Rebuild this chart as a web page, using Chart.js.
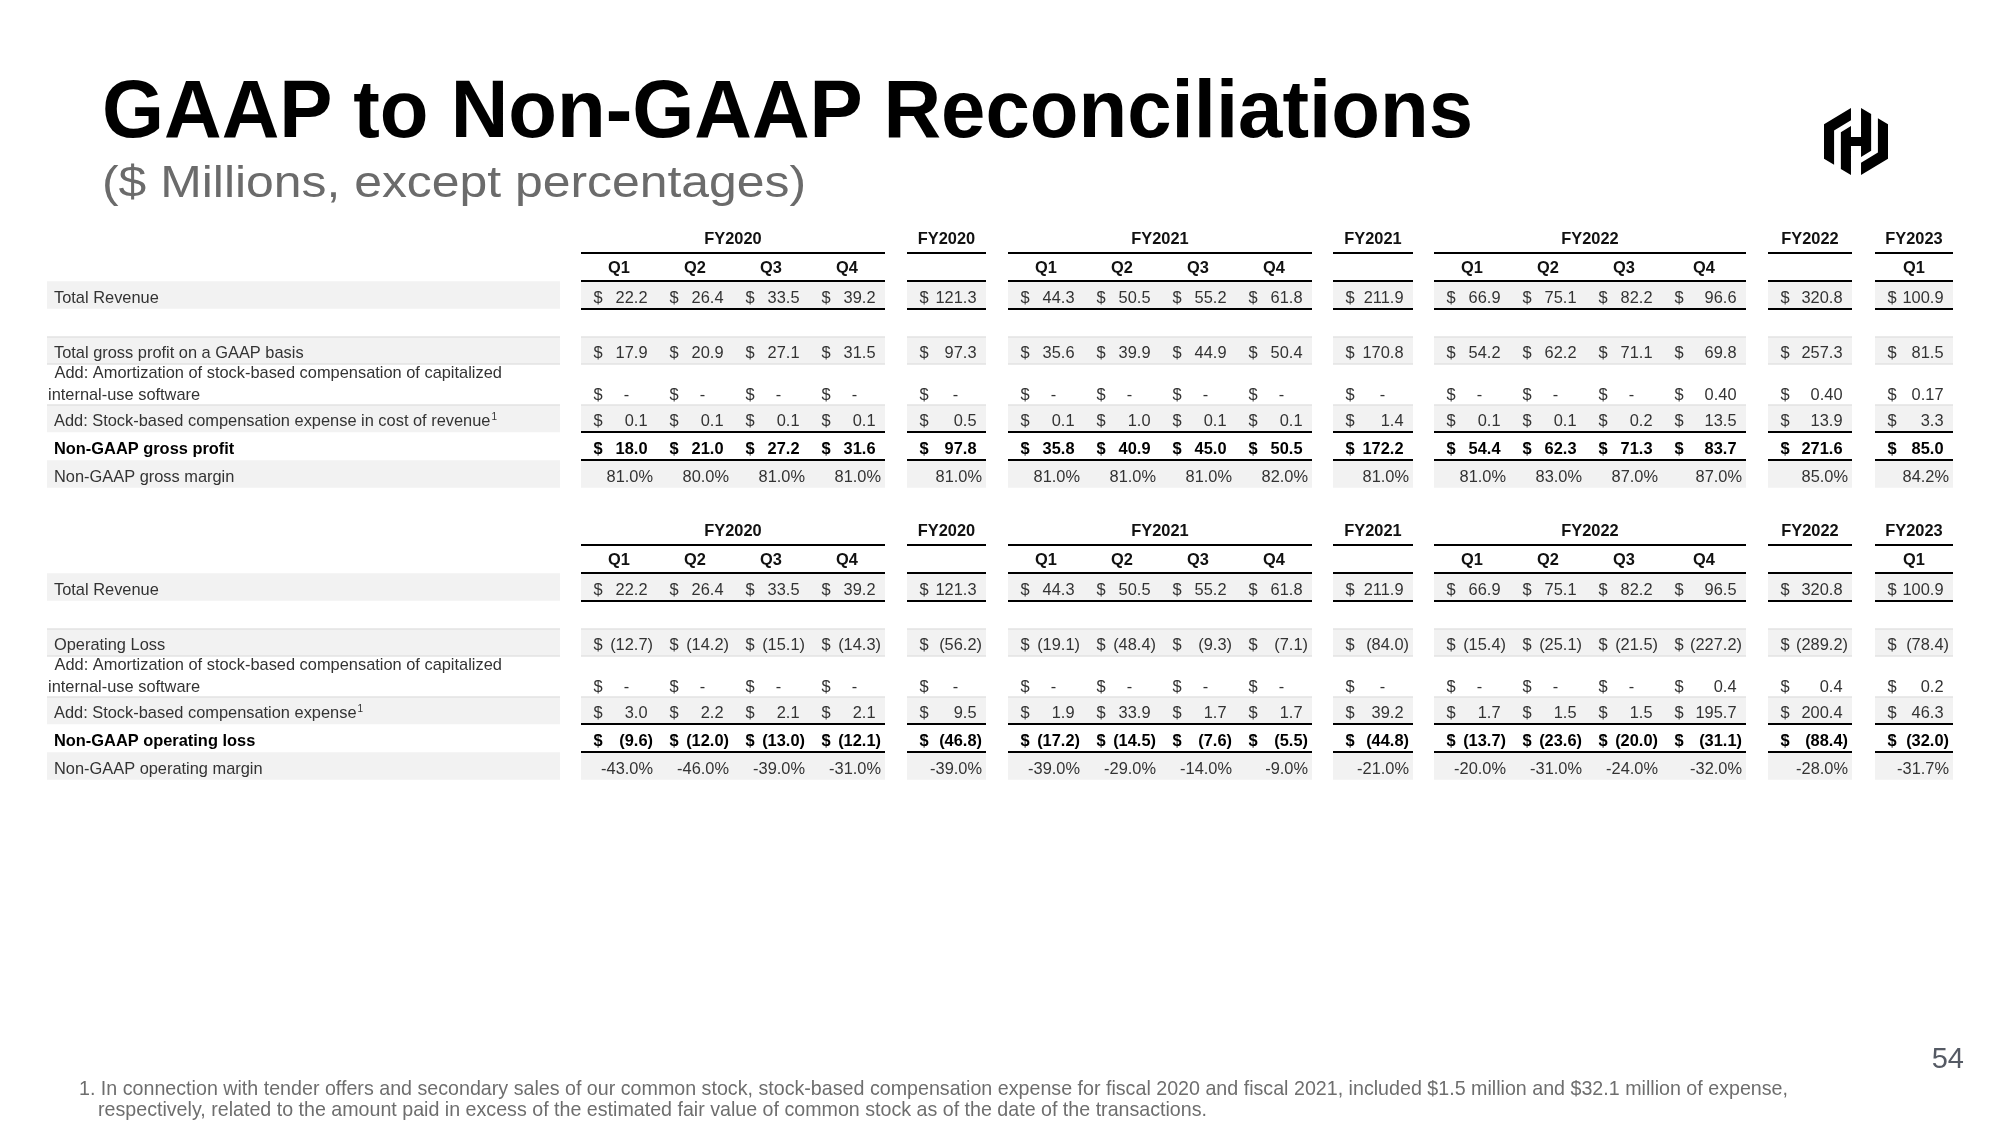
<!DOCTYPE html>
<html>
<head>
<meta charset="utf-8">
<script src="https://cdn.jsdelivr.net/npm/chart.js@4.4.0/dist/chart.umd.min.js"></script>
<style>
    html, body { margin: 0; padding: 0; background: #fff; }
    #page { position: relative; width: 2000px; height: 1125px; overflow: hidden; font-family: "Liberation Sans", Arial, sans-serif; }
    #table { position: absolute; left: 0; top: 0; width: 2000px; height: 1125px; }
    .txt { position: absolute; white-space: nowrap; line-height: 1; transform-origin: 0 0; }
</style>
</head>
<body>
<div id="page">
    <canvas id="table" width="2000" height="1125"></canvas>
    <div class="txt" data-w="1371" style="left:102px;top:67.6px;font-size:82px;font-weight:bold;color:#000">GAAP to Non-GAAP Reconciliations</div>
    <div class="txt" data-w="704" style="left:102px;top:159px;font-size:45px;color:#6b6b6b">($ Millions, except percentages)</div>
    <svg style="position:absolute;left:1824px;top:108px" width="64" height="67" viewBox="0 0 24 24" preserveAspectRatio="none">
        <path fill="#000" d="M10.114 0 0 5.842v12.316l3.784 2.184V8.026l6.33-3.656z"/>
        <path fill="#000" d="M13.886 0v10.352h-3.772V6.462L6.322 8.65v13.18L10.114 24V13.648h3.772v3.888l3.792-2.188V2.17z"/>
        <path fill="#000" d="M13.886 19.63V24L24 18.158V5.842l-3.784-2.184v12.316z"/>
    </svg>
    <div class="txt" style="right:36px;top:1043.5px;font-size:29px;color:#555a64">54</div>
    <div class="txt" data-w="1709" style="left:79px;top:1077.2px;font-size:21px;color:#6e6e6e">1. In connection with tender offers and secondary sales of our common stock, stock-based compensation expense for fiscal 2020 and fiscal 2021, included $1.5 million and $32.1 million of expense,</div>
    <div class="txt" data-w="1109" style="left:98px;top:1098.2px;font-size:21px;color:#6e6e6e">respectively, related to the amount paid in excess of the estimated fair value of common stock as of the date of the transactions.</div>
</div>
<script>
// ---- column headings ----
const fiscalGroups = ['FY2020', 'FY2020', 'FY2021', 'FY2021', 'FY2022', 'FY2022', 'FY2023'];
const columnHeads = ['Q1', 'Q2', 'Q3', 'Q4', '', 'Q1', 'Q2', 'Q3', 'Q4', '', 'Q1', 'Q2', 'Q3', 'Q4', '', 'Q1'];
const columnGroup = [0, 0, 0, 0, 1, 2, 2, 2, 2, 3, 4, 4, 4, 4, 5, 6];

// ---- gross profit table ----
const grossLabels = ['Total Revenue', 'Total gross profit on a GAAP basis',
    [' Add: Amortization of stock-based compensation of capitalized', 'internal-use software'],
    'Add: Stock-based compensation expense in cost of revenue', 'Non-GAAP gross profit', 'Non-GAAP gross margin'];
const revenueGross = [22.2, 26.4, 33.5, 39.2, 121.3, 44.3, 50.5, 55.2, 61.8, 211.9, 66.9, 75.1, 82.2, 96.6, 320.8, 100.9];
const grossProfitGaap = [17.9, 20.9, 27.1, 31.5, 97.3, 35.6, 39.9, 44.9, 50.4, 170.8, 54.2, 62.2, 71.1, 69.8, 257.3, 81.5];
const amortGross = [0, 0, 0, 0, 0, 0, 0, 0, 0, 0, 0, 0, 0, 0.40, 0.40, 0.17];
const sbcCostOfRevenue = [0.1, 0.1, 0.1, 0.1, 0.5, 0.1, 1.0, 0.1, 0.1, 1.4, 0.1, 0.1, 0.2, 13.5, 13.9, 3.3];
const nonGaapGrossProfit = [18.0, 21.0, 27.2, 31.6, 97.8, 35.8, 40.9, 45.0, 50.5, 172.2, 54.4, 62.3, 71.3, 83.7, 271.6, 85.0];
const nonGaapGrossMargin = [81.0, 80.0, 81.0, 81.0, 81.0, 81.0, 81.0, 81.0, 82.0, 81.0, 81.0, 83.0, 87.0, 87.0, 85.0, 84.2];

// ---- operating loss table ----
const operatingLabels = ['Total Revenue', 'Operating Loss',
    [' Add: Amortization of stock-based compensation of capitalized', 'internal-use software'],
    'Add: Stock-based compensation expense', 'Non-GAAP operating loss', 'Non-GAAP operating margin'];
const revenueOperating = [22.2, 26.4, 33.5, 39.2, 121.3, 44.3, 50.5, 55.2, 61.8, 211.9, 66.9, 75.1, 82.2, 96.5, 320.8, 100.9];
const operatingLoss = [-12.7, -14.2, -15.1, -14.3, -56.2, -19.1, -48.4, -9.3, -7.1, -84.0, -15.4, -25.1, -21.5, -227.2, -289.2, -78.4];
const amortOperating = [0, 0, 0, 0, 0, 0, 0, 0, 0, 0, 0, 0, 0, 0.4, 0.4, 0.2];
const sbcExpense = [3.0, 2.2, 2.1, 2.1, 9.5, 1.9, 33.9, 1.7, 1.7, 39.2, 1.7, 1.5, 1.5, 195.7, 200.4, 46.3];
const nonGaapOperatingLoss = [-9.6, -12.0, -13.0, -12.1, -46.8, -17.2, -14.5, -7.6, -5.5, -44.8, -13.7, -23.6, -20.0, -31.1, -88.4, -32.0];
const nonGaapOperatingMargin = [-43.0, -46.0, -39.0, -31.0, -39.0, -39.0, -29.0, -14.0, -9.0, -21.0, -20.0, -31.0, -24.0, -32.0, -28.0, -31.7];

// ---- layout ----
const labelBand = [47, 560];
const groupGaps = [21, 22, 22, 21, 21, 22, 23];
const columnWidths = [76, 76, 76, 76, 79, 76, 76, 76, 76, 80, 76, 76, 76, 84, 84, 78];
const tableTops = [224, 516];
const rowHeights = [29, 28, 28, 28, 27, 41, 27, 28, 28];
const FS = 16.4;
const REG = FS + 'px "Liberation Sans", Arial, sans-serif';
const BOLD = 'bold ' + REG;

const cols = [];
let xPos = labelBand[1], prevGroup = -1;
columnWidths.forEach((w, i) => {
    const g = columnGroup[i];
    if (g !== prevGroup) { xPos += groupGaps[g]; prevGroup = g; }
    cols.push({ l: xPos, r: xPos + w, mid: xPos + w / 2 });
    xPos += w;
});
const groups = fiscalGroups.map((name, g) => {
    const cs = cols.filter((c, i) => columnGroup[i] === g);
    return { name, l: cs[0].l, r: cs[cs.length - 1].r };
});

const rowSlots = (top) => {
    const s = [];
    let yy = top;
    rowHeights.forEach(h => { s.push({ t: yy, b: yy + h, mid: yy + h / 2 }); yy += h; });
    return s;
};

const tables = [
    { top: tableTops[0], labels: grossLabels, lines: [revenueGross, grossProfitGaap, amortGross, sbcCostOfRevenue, nonGaapGrossProfit], margin: nonGaapGrossMargin, amortDecimals: 2 },
    { top: tableTops[1], labels: operatingLabels, lines: [revenueOperating, operatingLoss, amortOperating, sbcExpense, nonGaapOperatingLoss], margin: nonGaapOperatingMargin, amortDecimals: 1 }
];
const lineSlots = [2, 4, 5, 6, 7];

// bands and rules as floating bars
const bands = [], rules = [], thinRules = [];
tables.forEach(t => {
    const s = rowSlots(t.top);
    [2, 4, 6, 8].forEach(r => {
        bands.push({ x: labelBand, y: s[r].mid });
        groups.forEach(g => bands.push({ x: [g.l, g.r], y: s[r].mid }));
    });
    [0, 1, 2, 6, 7].forEach(r => {
        groups.forEach(g => rules.push({ x: [g.l, g.r], y: s[r].b }));
    });
    [s[4].t, s[4].b, s[6].t].forEach(yy => {
        thinRules.push({ x: labelBand, y: yy });
        groups.forEach(g => thinRules.push({ x: [g.l, g.r], y: yy }));
    });
});

const cellText = {
    id: 'cellText',
    afterDatasetsDraw(chart) {
        const { ctx, scales: { x, y } } = chart;
        ctx.save();
        ctx.textBaseline = 'alphabetic';
        const base = (v) => y.getPixelForValue(v) + FS * 0.35;
        const digitW = () => ctx.measureText('0').width;
        const parenW = () => ctx.measureText(')').width;

        tables.forEach(t => {
            const s = rowSlots(t.top);
            // headings
            ctx.font = BOLD;
            ctx.fillStyle = '#111';
            ctx.textAlign = 'center';
            groups.forEach(g => ctx.fillText(g.name, x.getPixelForValue((g.l + g.r) / 2), base(s[0].mid)));
            cols.forEach((c, i) => ctx.fillText(columnHeads[i], x.getPixelForValue(c.mid), base(s[1].mid)));

            // row labels
            ctx.textAlign = 'left';
            const labelSlots = [2, 4, 5, 6, 7, 8];
            t.labels.forEach((lab, k) => {
                const r = labelSlots[k];
                const bold = r === 7;
                ctx.font = bold ? BOLD : REG;
                ctx.fillStyle = bold ? '#000' : '#333';
                if (Array.isArray(lab)) {
                    ctx.fillText(lab[0], x.getPixelForValue(labelBand[0] + 3), base(s[r].b - 33));
                    ctx.fillText(lab[1], x.getPixelForValue(labelBand[0] + 1), base(s[r].b - 11));
                } else {
                    const tx = x.getPixelForValue(labelBand[0] + 7);
                    const ty = base(s[r].mid) + 2;
                    ctx.fillText(lab, tx, ty);
                    if (r === 6) {
                        const w = ctx.measureText(lab).width;
                        ctx.font = '10px "Liberation Sans", Arial, sans-serif';
                        ctx.fillText('1', tx + w + 1, ty - 6);
                    }
                }
            });

            // money rows
            t.lines.forEach((vals, k) => {
                const r = lineSlots[k];
                const bold = r === 7;
                const dec = r === 5 ? t.amortDecimals : 1;
                const ty = r === 5 ? base(s[r].b - 11) : base(s[r].mid) + 2;
                ctx.font = bold ? BOLD : REG;
                ctx.fillStyle = bold ? '#000' : '#333';
                vals.forEach((v, i) => {
                    const c = cols[i];
                    ctx.textAlign = 'left';
                    ctx.fillText('$', x.getPixelForValue(c.l + 12.5), ty);
                    ctx.textAlign = 'right';
                    const right = c.r - 9.5;
                    if (v === 0) {
                        ctx.fillText('-', x.getPixelForValue(right - 2 * digitW()), ty);
                    } else if (v < 0) {
                        ctx.fillText('(' + (-v).toFixed(dec) + ')', x.getPixelForValue(right + parenW()), ty);
                    } else {
                        ctx.fillText(v.toFixed(dec), x.getPixelForValue(right), ty);
                    }
                });
            });

            // margin row
            ctx.font = REG;
            ctx.fillStyle = '#333';
            ctx.textAlign = 'right';
            t.margin.forEach((v, i) => {
                ctx.fillText(v.toFixed(1) + '%', x.getPixelForValue(cols[i].r - 4), base(s[8].mid) + 2);
            });
        });
        ctx.restore();
    }
};

new Chart(document.getElementById('table'), {
    type: 'bar',
    data: {
        datasets: [
            { data: rules, backgroundColor: '#000', barThickness: 2, stack: 'cells', order: 1 },
            { data: thinRules, backgroundColor: '#d9d9d9', barThickness: 1, stack: 'cells', order: 2 },
            { data: bands, backgroundColor: '#f2f2f2', barThickness: 27.5, stack: 'cells', order: 3 }
        ]
    },
    options: {
        indexAxis: 'y',
        responsive: false,
        animation: false,
        devicePixelRatio: 1,
        layout: { padding: 0 },
        datasets: { bar: { borderWidth: 0, inflateAmount: 0 } },
        scales: {
            x: { type: 'linear', min: 0, max: 2000, stacked: false, display: false },
            y: { type: 'linear', min: 0, max: 1125, reverse: true, offset: false, display: false }
        },
        plugins: { legend: { display: false }, tooltip: { enabled: false } }
    },
    plugins: [cellText]
});

// squeeze headline texts to the measured widths
document.querySelectorAll('[data-w]').forEach(el => {
    const w = el.getBoundingClientRect().width;
    el.style.transform = 'scaleX(' + (el.dataset.w / w) + ')';
});
</script>
</body>
</html>
